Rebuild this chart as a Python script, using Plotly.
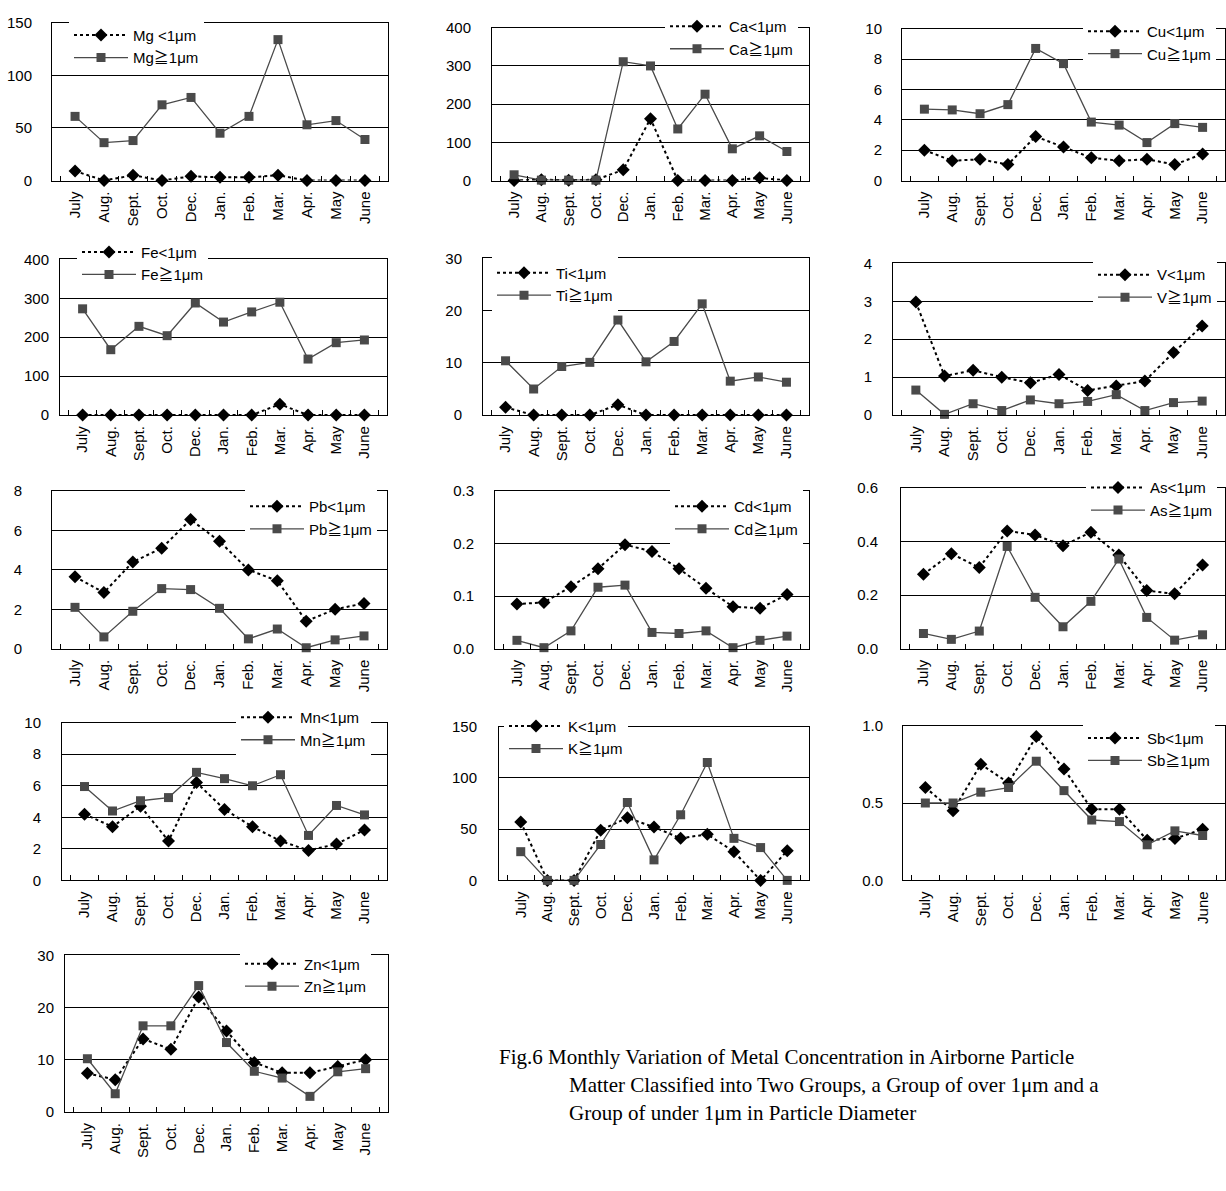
import plotly.graph_objects as go

months = ["July", "Aug.", "Sept.", "Oct.", "Dec.", "Jan.", "Feb.", "Mar.", "Apr.", "May", "June"]

mg_fine = [9, 0, 5, 0, 4, 3, 3, 5, 0, 0, 0]
mg_coarse = [61, 36, 38, 72, 79, 45, 61, 134, 53, 57, 39]
ca_fine = [0, 2, 1, 2, 28, 162, 0, 0, 0, 7, 0]
ca_coarse = [15, 1, 1, 1, 311, 300, 135, 226, 83, 117, 76]
cu_fine = [2.0, 1.3, 1.4, 1.05, 2.9, 2.2, 1.5, 1.3, 1.4, 1.05, 1.75]
cu_coarse = [4.7, 4.65, 4.4, 5.0, 8.7, 7.7, 3.85, 3.65, 2.5, 3.75, 3.5]
fe_fine = [0, 0, 0, 0, 0, 0, 0, 28, 0, 0, 0]
fe_coarse = [273, 168, 228, 204, 288, 239, 265, 290, 144, 186, 193]
ti_fine = [1.5, 0, 0, 0, 2.0, 0, 0, 0, 0, 0, 0]
ti_coarse = [10.4, 5.0, 9.3, 10.1, 18.2, 10.2, 14.1, 21.3, 6.5, 7.3, 6.3]
v_fine = [2.98, 1.03, 1.18, 1.0, 0.85, 1.07, 0.65, 0.77, 0.9, 1.65, 2.35]
v_coarse = [0.66, 0.02, 0.3, 0.12, 0.4, 0.3, 0.36, 0.54, 0.12, 0.33, 0.37]
pb_fine = [3.65, 2.85, 4.4, 5.1, 6.55, 5.45, 4.0, 3.45, 1.4, 2.0, 2.3]
pb_coarse = [2.1, 0.6, 1.9, 3.05, 3.0, 2.05, 0.5, 1.0, 0.05, 0.45, 0.65]
cd_fine = [0.085, 0.088, 0.118, 0.152, 0.198, 0.185, 0.152, 0.115, 0.08, 0.077, 0.103]
cd_coarse = [0.016, 0.002, 0.034, 0.117, 0.121, 0.031, 0.029, 0.034, 0.002, 0.016, 0.024]
as_fine = [0.278, 0.355, 0.303, 0.44, 0.425, 0.385, 0.435, 0.35, 0.217, 0.205, 0.313]
as_coarse = [0.057, 0.035, 0.066, 0.382, 0.192, 0.082, 0.177, 0.335, 0.117, 0.032, 0.052]
mn_fine = [4.2, 3.4, 4.7, 2.5, 6.2, 4.5, 3.4, 2.5, 1.9, 2.3, 3.2]
mn_coarse = [5.95, 4.4, 5.05, 5.25, 6.85, 6.45, 6.0, 6.7, 2.85, 4.75, 4.15]
k_fine = [57, 0, 0, 49, 61, 52, 41, 45, 28, 0, 29]
k_coarse = [28, 0, 0, 35, 76, 20, 64, 115, 41, 32, 0]
sb_fine = [0.6, 0.45, 0.75, 0.63, 0.93, 0.72, 0.46, 0.46, 0.26, 0.27, 0.33]
sb_coarse = [0.5, 0.5, 0.57, 0.6, 0.77, 0.58, 0.39, 0.38, 0.23, 0.32, 0.29]
zn_fine = [7.4, 6.2, 14.0, 12.0, 22.0, 15.5, 9.5, 7.5, 7.5, 8.7, 10.0]
zn_coarse = [10.2, 3.5, 16.5, 16.5, 24.2, 13.3, 7.8, 6.5, 3.0, 7.7, 8.3]

fine_labels = ["Mg <1μm", "Ca<1μm", "Cu<1μm", "Fe<1μm", "Ti<1μm", "V<1μm", "Pb<1μm",
               "Cd<1μm", "As<1μm", "Mn<1μm", "K<1μm", "Sb<1μm", "Zn<1μm"]
coarse_labels = ["Mg≧1μm", "Ca≧1μm", "Cu≧1μm", "Fe≧1μm", "Ti≧1μm", "V≧1μm", "Pb≧1μm",
                 "Cd≧1μm", "As≧1μm", "Mn≧1μm", "K≧1μm", "Sb≧1μm", "Zn≧1μm"]
fine_series = [mg_fine, ca_fine, cu_fine, fe_fine, ti_fine, v_fine, pb_fine,
               cd_fine, as_fine, mn_fine, k_fine, sb_fine, zn_fine]
coarse_series = [mg_coarse, ca_coarse, cu_coarse, fe_coarse, ti_coarse, v_coarse, pb_coarse,
                 cd_coarse, as_coarse, mn_coarse, k_coarse, sb_coarse, zn_coarse]
y_max = [150, 400, 10, 400, 30, 4, 8, 0.3, 0.6, 10, 150, 1.0, 30]
y_step = [50, 100, 2, 100, 10, 1, 2, 0.1, 0.2, 2, 50, 0.5, 10]
y_fmt = ["d", "d", "d", "d", "d", "d", "d", ".1f", ".1f", "d", "d", ".1f", "d"]

caption_lines = [
    "Fig.6 Monthly Variation of Metal Concentration in Airborne Particle",
    "Matter Classified into Two Groups, a Group of over 1μm and a",
    "Group of under 1μm in Particle Diameter",
]

# ---- layout (pixel geometry) ----
W, H = 1226, 1191
# plot boxes: left, right, top, bottom
boxes = [
    (52, 388, 14, 174), (492, 809, 19, 174), (902, 1225, 20, 174),
    (60, 387, 254, 412), (483, 809, 253, 412), (893, 1225, 258, 412),
    (52, 387, 489, 649), (495, 809, 489, 649), (901, 1225, 486, 649),
    (62, 387, 724, 884), (499, 809, 728, 884), (903, 1225, 727, 884),
    (65, 388, 960, 1119),
]
# legend: symbol start x, first item centre y
legend_pos = [
    (74, 34), (670, 25), (1088, 30),
    (82, 254), (497, 275), (1098, 277),
    (250, 512), (675, 512), (1091, 493),
    (241, 726), (509, 735), (1088, 747),
    (245, 976),
]
label_gap = [19, 20, 19, 10, 20, 20, 29, 20, 22, 20, 21, 19, 10]

FONT = "Liberation Sans, Arial, Noto Sans CJK JP, sans-serif"

fig = go.Figure()
layout = dict(
    width=W, height=H, margin=dict(l=0, r=0, t=0, b=0),
    paper_bgcolor="white", plot_bgcolor="white",
    font=dict(family=FONT, size=15, color="black"),
)

for i in range(13):
    n = i + 1
    sfx = "" if n == 1 else str(n)
    leg = "legend" + sfx
    fig.add_trace(go.Scatter(
        x=months, y=fine_series[i], name=fine_labels[i], mode="lines+markers",
        line=dict(color="black", width=2, dash="dot"),
        marker=dict(symbol="diamond", size=10, color="black"),
        cliponaxis=False, xaxis="x" + sfx, yaxis="y" + sfx, legend=leg,
        legendgroup="f%d" % n,
    ))
    fig.add_trace(go.Scatter(
        x=months, y=coarse_series[i], name=coarse_labels[i], mode="lines+markers",
        line=dict(color="#4a4a4a", width=1.3),
        marker=dict(symbol="square", size=9, color="#4a4a4a"),
        cliponaxis=False, xaxis="x" + sfx, yaxis="y" + sfx, legend=leg,
        legendgroup="c%d" % n,
    ))
    l, r, t, b = boxes[i]
    layout["xaxis" + sfx] = dict(
        domain=[l / W, r / W], anchor="y" + sfx, type="category",
        categoryorder="array", categoryarray=months,
        tickangle=-90, tickson="boundaries", ticks="inside", ticklen=5,
        tickcolor="black", showgrid=False, showline=True, linecolor="black",
        linewidth=1, mirror=True, tickfont=dict(size=15), fixedrange=True,
        ticklabelstandoff=4,
    )
    layout["yaxis" + sfx] = dict(
        domain=[1 - b / H, 1 - t / H], anchor="x" + sfx,
        range=[0, y_max[i]], dtick=y_step[i], tick0=0, tickformat=y_fmt[i],
        showgrid=True, gridcolor="black", gridwidth=1, zeroline=False,
        showline=True, linecolor="black", linewidth=1, mirror=True,
        ticks="", tickfont=dict(size=15), ticklabelstandoff=max(label_gap[i] - 3, 0),
        fixedrange=True,
    )
    sx, sy = legend_pos[i]
    layout[leg] = dict(
        x=(sx - 5) / W, y=1 - (sy - 24) / H, xanchor="left", yanchor="top",
        bgcolor="white", borderwidth=0, font=dict(size=15, family=FONT),
        itemwidth=54, tracegroupgap=6, traceorder="normal",
    )

annotations = []
cap_x = [497, 567, 567]
cap_y = [1063, 1092, 1120]
for txt, cx, cy in zip(caption_lines, cap_x, cap_y):
    annotations.append(dict(
        text=txt, x=cx / W, y=1 - cy / H, xref="paper", yref="paper",
        xanchor="left", yanchor="middle", showarrow=False,
        font=dict(family="Liberation Serif, Times New Roman, serif", size=21, color="black"),
    ))
layout["annotations"] = annotations

fig.update_layout(**layout)
fig.write_html("out.html")
